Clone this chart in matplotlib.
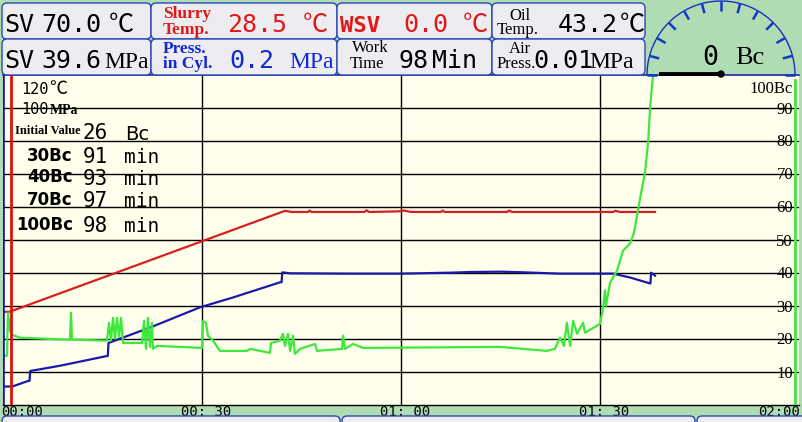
import matplotlib
matplotlib.use('Agg')
import matplotlib.pyplot as plt
import numpy as np
from matplotlib.patches import FancyBboxPatch, Circle
from matplotlib.transforms import ScaledTranslation
from matplotlib import font_manager as fm

# ---------------- data ----------------
TEMP_FULL_SCALE = 120.0   # degC at 100 % of chart
PRESS_FULL_SCALE = 100.0  # MPa at 100 % of chart
BC_FULL_SCALE = 100.0

temp_time = [0.0, 1.0, 42.5, 43.5, 46.0, 46.2, 46.5, 54.5, 54.8, 55.2, 59.5, 60.5, 61.5,
             66.0, 66.3, 66.6, 76.0, 76.3, 76.7, 92.0, 92.3, 93.0, 98.3]
temp_c = [33.9, 33.9, 70.6, 70.2, 70.2, 70.7, 70.2, 70.2, 70.8, 70.2, 70.4, 70.7, 70.2,
          70.2, 70.7, 70.2, 70.2, 70.7, 70.2, 70.2, 70.6, 70.2, 70.2]

press_time = [0.0, 1.4, 3.8, 4.0, 4.1, 8.6, 15.8, 15.9, 22.2, 29.7, 34.7, 41.8, 42.0, 42.1,
              43.3, 52.0, 60.0, 67.5, 70.5, 75.0, 78.5, 84.0, 90.0, 92.0, 94.6, 97.6, 97.7, 98.3]
press_mpa = [5.6, 5.6, 7.3, 7.3, 10.3, 11.9, 14.9, 18.8, 23.5, 29.6, 32.6, 37.2, 37.2, 40.2,
             39.9, 39.8, 39.8, 40.1, 40.3, 40.4, 40.2, 39.8, 39.8, 39.8, 38.6, 36.8, 40.1, 39.2]

bc_time = [0.0, 0.6, 0.75, 1.06, 1.36, 2.56, 9.65, 10.1, 10.25, 10.4, 15.68, 15.98, 16.28,
           16.58, 16.89, 17.19, 17.49, 17.79, 18.09, 20.96, 21.26, 21.56, 21.86, 22.16,
           22.46, 22.61, 23.22, 30.0, 30.15, 30.6, 30.9, 31.66, 32.71, 36.78, 37.24, 40.25,
           40.4, 41.76, 42.21, 42.51, 42.97, 43.27, 43.72, 44.02, 44.78, 47.04, 47.34, 51.11,
           51.26, 51.56, 52.77, 54.27, 74.93, 82.0, 83.2, 83.97, 84.57, 85.0, 85.5, 85.94,
           86.54, 87.45, 87.75, 90.01, 90.46, 90.76, 90.91, 91.52, 92.57, 93.48, 94.53,
           95.13, 96.04, 96.79, 97.25, 97.55, 97.85, 98.0]
bc_value = [14.9, 14.9, 28.0, 22.5, 21.3, 20.4, 19.8, 19.8, 28.0, 19.8, 19.5, 24.9, 19.5,
            26.4, 20.1, 26.4, 20.7, 26.4, 18.8, 18.8, 25.5, 17.0, 26.4, 17.6,
            24.9, 17.0, 17.9, 17.3, 25.5, 24.9, 21.0, 19.5, 16.4, 16.4, 17.0, 15.8,
            18.8, 19.5, 21.6, 17.9, 21.6, 16.4, 21.0, 15.5, 17.0, 18.5, 16.4, 17.0,
            21.0, 17.0, 18.5, 17.3, 17.6, 16.4, 17.0, 20.4, 17.9, 24.9, 17.9, 25.5,
            21.6, 24.9, 21.9, 24.6, 29.5, 34.7, 30.1, 37.1, 40.7, 46.8, 48.9,
            52.3, 62.6, 70.5, 79.6, 90.0, 97.0, 100.0]

x_ticks = [0, 30, 60, 90, 120]
x_tick_labels = ["00:00", "00: 30", "01: 00", "01: 30", "02:00"]
y_ticks = [10, 20, 30, 40, 50, 60, 70, 80, 90]
y_tick_labels = ["10", "20", "30", "40", "50", "60", "70", "80", "90"]
y_top_label = "100Bc"

cursor_blue_time = 0.0
cursor_red_time = 1.2
bar_green_time = 119.4

gauge_value_bc = 0
milestone_labels = ["30Bc", "40Bc", "70Bc", "100Bc"]
milestone_minutes = ["91", "93", "97", "98"]
initial_value = "26"

# ---------------- style ----------------
W, H = 802, 422
BG_GREEN = '#B0DCB4'
PLOT_BG = '#FFFFEC'
BOX_FC = '#EDEDF1'
BOX_EC = '#2A48B8'
RED = '#D81E1E'
BLUE = '#1A1AA8'
GREEN = '#3DE83D'
TXT_RED = '#E01818'
TXT_BLUE = '#1428D0'

avail = {f.name for f in fm.fontManager.ttflist}
MONO = 'DejaVu Sans Mono'
NARROW = 'Liberation Sans Narrow' if 'Liberation Sans Narrow' in avail else MONO
SERIF = 'Liberation Serif' if 'Liberation Serif' in avail else 'DejaVu Serif'
SANS = 'DejaVu Sans'
CJK = ['Noto Sans CJK JP', 'DejaVu Sans']

fig = plt.figure(figsize=(W / 100, H / 100), dpi=100, facecolor=BG_GREEN)

# data axes: x px 3..799 -> 0..120 min, y px 405..75 -> 0..100 %
ax = fig.add_axes([3 / W, (H - 405) / H, 796 / W, 330 / H])
ax.set_xlim(0, 120)
ax.set_ylim(0, 100)
ax.set_facecolor(PLOT_BG)
ax.set_xticks([])
ax.set_yticks([])
for s in ['left', 'right']:
    ax.spines[s].set_visible(False)
ax.spines['top'].set_color('#1A2A9A')
ax.spines['top'].set_linewidth(1.2)
ax.spines['bottom'].set_color('black')
ax.spines['bottom'].set_linewidth(1.0)

for v in y_ticks:
    ax.axhline(v, color='black', lw=1.0, zorder=1)
for v in x_ticks[1:-1]:
    ax.axvline(v, color='black', lw=1.0, zorder=1)

temp_pct = [t * 100.0 / TEMP_FULL_SCALE for t in temp_c]
press_pct = [p * 100.0 / PRESS_FULL_SCALE for p in press_mpa]
bc_pct = [b * 100.0 / BC_FULL_SCALE for b in bc_value]

ax.plot(temp_time, temp_pct, color=RED, lw=1.6, zorder=3)
ax.plot(press_time, press_pct, color=BLUE, lw=1.6, zorder=4)
ax.plot(bc_time, bc_pct, color=GREEN, lw=1.6, zorder=5)

ax.axvline(cursor_blue_time, color='#1010C0', lw=2.6, zorder=6)
ax.axvline(cursor_red_time, color='#E01010', lw=2.0, zorder=6)
ax.axvline(bar_green_time, ymax=0.985, color=GREEN, lw=2.0, zorder=6)

# right-side scale labels
ytr = ax.get_yaxis_transform() + ScaledTranslation(0, -5.5 / 100, fig.dpi_scale_trans)
for v, lab in zip(y_ticks, y_tick_labels):
    ax.text((793 - 3) / 796, v, lab, transform=ytr, ha='right', va='baseline',
            family=SERIF, fontsize=12, color='black', zorder=7)
ytr_top = ax.get_yaxis_transform() + ScaledTranslation(0, -18 / 100, fig.dpi_scale_trans)
ax.text((793 - 3) / 796, 100, y_top_label, transform=ytr_top, ha='right', va='baseline',
        family=SERIF, fontsize=12, color='black', zorder=7)

# time labels under the chart
xtr = ax.get_xaxis_transform() + ScaledTranslation(0, -10.5 / 100, fig.dpi_scale_trans)
for i, (v, lab) in enumerate(zip(x_ticks, x_tick_labels)):
    ha = 'left' if i == 0 else ('right' if i == len(x_ticks) - 1 else 'center')
    dx = -2 if i == 0 else (1 if i == len(x_ticks) - 1 else 4)
    ax.text(v, 0, lab, transform=xtr + ScaledTranslation(dx / 100, 0, fig.dpi_scale_trans),
            ha=ha, va='baseline', family=NARROW, fontsize=10, color='black', clip_on=False)

# ---------------- overlay in pixel coords ----------------
ov = fig.add_axes([0, 0, 1, 1], zorder=5)
ov.set_xlim(0, W)
ov.set_ylim(H, 0)
ov.axis('off')
ov.patch.set_alpha(0)


def box(x0, y0, x1, y1):
    ov.add_patch(FancyBboxPatch((x0, y0), x1 - x0, y1 - y0,
                                boxstyle='round,pad=0,rounding_size=5',
                                fc=BOX_FC, ec=BOX_EC, lw=1.0))


def txt(x, y, s, size, family=MONO, color='black', weight='normal', ha='left', va='baseline', **kw):
    ov.text(x, y, s, fontsize=size, family=family, color=color, weight=weight,
            ha=ha, va=va, **kw)


# header boxes
cols = [(2, 151), (151, 337), (337, 492), (492, 645)]
for (x0, x1) in cols:
    box(x0, 3, x1, 39)
    box(x0, 39, x1, 75)

BIG = 18
# row 1
txt(4, 32, "SV", BIG)
txt(41, 32, "70.0", BIG)
txt(109, 32, "℃", 18, family=CJK)
txt(163, 18, "Slurry", 12.5, family=SERIF, color=TXT_RED, weight='bold')
txt(163, 33.5, "Temp.", 12.5, family=SERIF, color=TXT_RED, weight='bold')
txt(227, 32, "28.5", BIG, color=TXT_RED)
txt(303, 32, "℃", 18, family=CJK, color=TXT_RED)
txt(340, 32, "WSV", 16, family=MONO, color=TXT_RED, weight='bold')
txt(403, 32, "0.0", BIG, color=TXT_RED)
txt(463, 32, "℃", 18, family=CJK, color=TXT_RED)
txt(520, 19.5, "Oil", 12, family=SERIF, ha='center')
txt(497, 34, "Temp.", 12, family=SERIF)
txt(558, 32, "43.2", BIG)
txt(620, 32, "℃", 18, family=CJK)
# row 2
txt(4, 68, "SV", BIG)
txt(41, 68, "39.6", BIG)
txt(104, 68, "MPa", 17, family=SERIF)
txt(163, 53, "Press.", 12.5, family=SERIF, color=TXT_BLUE, weight='bold')
txt(163, 68, "in Cyl.", 12.5, family=SERIF, color=TXT_BLUE, weight='bold')
txt(229, 68, "0.2", BIG, color=TXT_BLUE)
txt(289, 68, "MPa", 17, family=SERIF, color=TXT_BLUE)
txt(370, 52.5, "Work", 12, family=SERIF, ha='center')
txt(367, 68, "Time", 12, family=SERIF, ha='center')
txt(399, 68, "98", BIG)
txt(432, 68, "Min", BIG)
txt(520, 53, "Air", 12, family=SERIF, ha='center')
txt(497, 68, "Press.", 12, family=SERIF)
txt(533, 68, "0.01", BIG)
txt(589, 68, "MPa", 17, family=SERIF)

# gauge
cx, cy, R = 721, 75, 74
ang = np.linspace(0, np.pi, 200)
ov.plot(cx + R * np.cos(ang), cy - R * np.sin(ang), color='#1830C0', lw=1.0)
for a in np.deg2rad(np.arange(0, 181, 15)):
    ov.plot([cx + (R - 10) * np.cos(a), cx + R * np.cos(a)],
            [cy - (R - 10) * np.sin(a), cy - R * np.sin(a)], color='#1438C8', lw=1.8,
            solid_capstyle='butt')
needle_a = np.pi * (1 - gauge_value_bc / 100.0)
ov.plot([cx, cx + 62 * np.cos(needle_a)], [cy - 1, cy - 1 - 62 * np.sin(needle_a)],
        color='black', lw=2.8, solid_capstyle='butt')
ov.add_patch(Circle((cx, cy - 1), 3, color='black'))
txt(702, 65, str(gauge_value_bc), 19, family=MONO)
txt(735, 64, "Bc", 19, family=SERIF)

# chart annotations (left)
txt(21, 94, "120", 11, family=NARROW)
txt(49, 94, "℃", 13, family=CJK)
txt(21, 114, "100", 11, family=NARROW)
txt(50, 114, "MPa", 10, family=SERIF, weight='bold')
txt(15, 134, "Initial Value", 9, family=SERIF, weight='bold')
txt(83, 139, initial_value, 15, family=NARROW)
txt(125, 140, "Bc", 14, family=SANS)
base_rows = [(161, 163), (182, 185), (205, 207), (230, 232)]
for lab, mins, (b1, b2) in zip(milestone_labels, milestone_minutes, base_rows):
    txt(73, b1, lab, 12, family=SANS, weight='bold', ha='right')
    txt(83, b2, mins, 15, family=NARROW)
    txt(124, b2, "min", 14, family=MONO)

# bottom boxes
for (x0, x1) in [(2, 340), (342, 695), (697, 812)]:
    box(x0, 416, x1, 432)

fig.savefig('out.png', dpi=100, facecolor=BG_GREEN)
